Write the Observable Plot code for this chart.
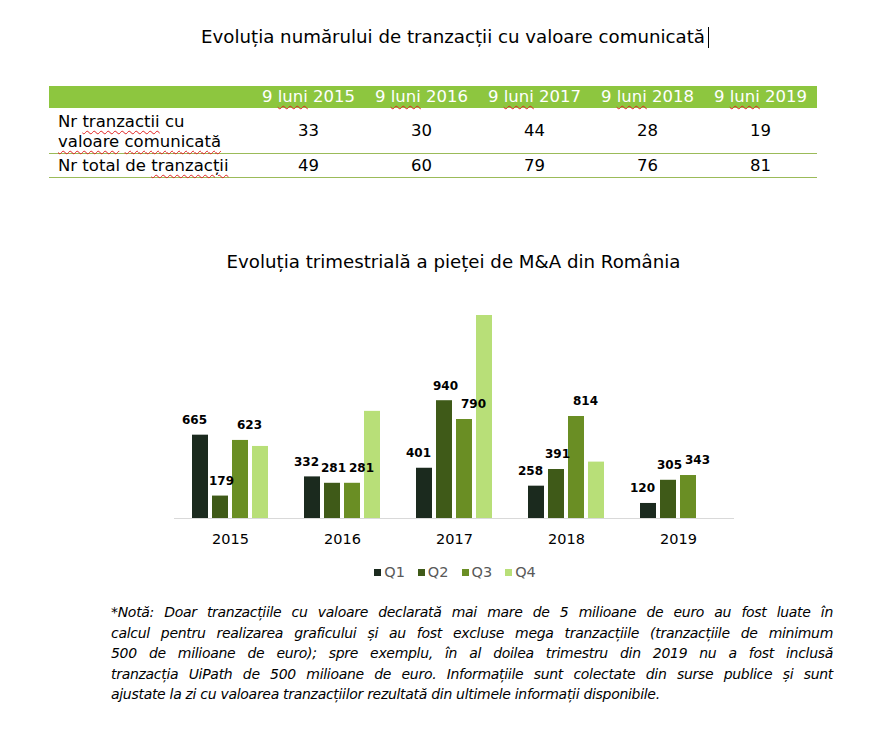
<!DOCTYPE html>
<html><head><meta charset="utf-8">
<script src="https://cdn.jsdelivr.net/npm/d3@7"></script>
<script src="https://cdn.jsdelivr.net/npm/@observablehq/plot@0.6"></script>
<style>
body{margin:0;background:#fff;font-family:"DejaVu Sans",Verdana,sans-serif;color:#000;}
#page{position:relative;width:891px;height:739px;overflow:hidden;background:#fff;}
.abs{position:absolute;}
#title1{top:27px;left:0;width:910px;text-align:center;font-size:18.2px;line-height:20px;}
#cursor{display:inline-block;width:0;height:21px;border-left:1px solid #000;vertical-align:-5px;margin-left:3px;}
#tbl{top:86px;left:49px;width:768px;border-collapse:collapse;font-size:16.5px;table-layout:fixed;}
#tbl th{background:#8dc63f;color:#fff;font-weight:normal;height:22px;padding:0;line-height:22px;text-align:center;}
#tbl td{padding:0;text-align:center;line-height:20px;}
#tbl td.lab{text-align:left;padding-left:9px;}
#tbl tr.r1 td{height:45px;border-bottom:1px solid #9bbb59;}
#tbl tr.r1 td.lab{padding-top:3px;height:42px;}
#tbl tr.r2 td{height:23px;border-bottom:1px solid #9bbb59;}
.sp{text-decoration:underline wavy #e02020;text-decoration-thickness:1px;text-underline-offset:3px;}
#title2{top:252px;left:0;width:907px;text-align:center;font-size:18.2px;line-height:20px;}
#chart{top:290px;left:0;}
#legend{top:563px;left:0;width:910px;display:flex;justify-content:center;gap:13px;font-size:14.5px;color:#595959;line-height:18px;}
#legend .it{display:flex;align-items:center;}
#legend .sw{width:7px;height:7px;margin-right:3px;}
#note{top:602px;left:111px;width:722px;font-size:14px;letter-spacing:-0.3px;font-style:italic;line-height:20.5px;color:#000;}
#note div{text-align:justify;text-align-last:justify;}
#note div.last{text-align-last:left;}
</style></head><body>
<div id="page">
  <div id="title1" class="abs">Evoluția numărului de tranzacții cu valoare comunicată<span id="cursor"></span></div>
  <table id="tbl" class="abs"></table>
  <div id="title2" class="abs">Evoluția trimestrială a pieței de M&amp;A din România</div>
  <div id="chart" class="abs"></div>
  <div id="legend" class="abs"></div>
  <div id="note" class="abs"></div>
</div>
<script>
// ---- Table data ----
const tableYears = ["9 luni 2015", "9 luni 2016", "9 luni 2017", "9 luni 2018", "9 luni 2019"];
const rowLabel1 = "Nr <span class='sp'>tranzactii</span> cu<br><span class='sp'>valoare</span> <span class='sp'>comunicată</span>";
const rowLabel2 = "Nr total de <span class='sp'>tranzacții</span>";
const reportedDeals = [33, 30, 44, 28, 19];
const totalDeals = [49, 60, 79, 76, 81];

// ---- Chart data ----
const years = ["2015", "2016", "2017", "2018", "2019"];
const quarters = ["Q1", "Q2", "Q3", "Q4"];
const q1 = [665, 332, 401, 258, 120];
const q2 = [179, 281, 940, 391, 305];
const q3 = [623, 281, 790, 814, 343];
const q4 = [575, 855, 1620, 450, null];
const colors = ["#1b2a1e", "#3f5a18", "#6a8e24", "#b8df78"];
const labelShift = {Q1: -6, Q2: 1, Q3: 9}; // label nudges (style only)

const noteLines = [
  "*Notă: Doar tranzacțiile cu valoare declarată mai mare de 5 milioane de euro au fost luate în",
  "calcul pentru realizarea graficului și au fost excluse mega tranzacțiile (tranzacțiile de minimum",
  "500 de milioane de euro); spre exemplu, în al doilea trimestru din 2019 nu a fost inclusă",
  "tranzacția UiPath de 500 milioane de euro. Informațiile sunt colectate din surse publice și sunt",
  "ajustate la zi cu valoarea tranzacțiilor rezultată din ultimele informații disponibile."
];

// ---- Build table ----
const tbl = document.getElementById("tbl");
let html = "<colgroup><col style='width:203px'>" + tableYears.map(() => "<col style='width:113px'>").join("") + "</colgroup>";
html += "<tr><th></th>" + tableYears.map(t => {
  const [a, b, c] = t.split(" ");
  return `<th>${a} <span class='sp'>${b}</span> ${c}</th>`;
}).join("") + "</tr>";
html += "<tr class='r1'><td class='lab'>" + rowLabel1 + "</td>" + reportedDeals.map(v => `<td>${v}</td>`).join("") + "</tr>";
html += "<tr class='r2'><td class='lab'>" + rowLabel2 + "</td>" + totalDeals.map(v => `<td>${v}</td>`).join("") + "</tr>";
tbl.innerHTML = html;

// ---- Build chart ----
const series = [q1, q2, q3, q4];
const data = [];
years.forEach((y, i) => {
  quarters.forEach((q, j) => {
    const v = series[j][i];
    if (v != null) data.push({year: y, quarter: q, value: v});
  });
});

const labelMarks = Object.keys(labelShift).map(q =>
  Plot.text(data.filter(d => d.quarter === q), {
    fx: "year", x: "quarter", y: "value", text: d => String(d.value),
    dy: -15, dx: labelShift[q], fontWeight: "bold", fontSize: 12, fill: "#000"
  })
);

const chart = Plot.plot({
  width: 891,
  height: 260,
  marginLeft: 172,
  marginRight: 156,
  marginTop: 25,
  marginBottom: 32,
  fx: {domain: years, padding: 0, label: null},
  x: {domain: quarters, paddingInner: 0.22, paddingOuter: 0.855, axis: null},
  y: {domain: [0, 1620], axis: null},
  color: {domain: quarters, range: colors},
  style: {fontFamily: "'DejaVu Sans', Verdana, sans-serif", fontSize: "14px", color: "#000", background: "#fff"},
  marks: [
    Plot.axisFx({anchor: "bottom", tickSize: 0, tickPadding: 15, fontSize: 14.5, label: null}),
    Plot.barY(data, {fx: "year", x: "quarter", y: "value", fill: "quarter"}),
    Plot.ruleY([0], {stroke: "#d9d9d9", strokeWidth: 1}),
    ...labelMarks
  ]
});
document.getElementById("chart").appendChild(chart);

// ---- Legend ----
const legend = document.getElementById("legend");
legend.innerHTML = quarters.map((q, i) =>
  `<div class="it"><div class="sw" style="background:${colors[i]}"></div><span>${q}</span></div>`).join("");

// ---- Note ----
const note = document.getElementById("note");
note.innerHTML = noteLines.map((l, i) => `<div class="${i === noteLines.length - 1 ? "last" : ""}">${l}</div>`).join("");
</script>
</body></html>
